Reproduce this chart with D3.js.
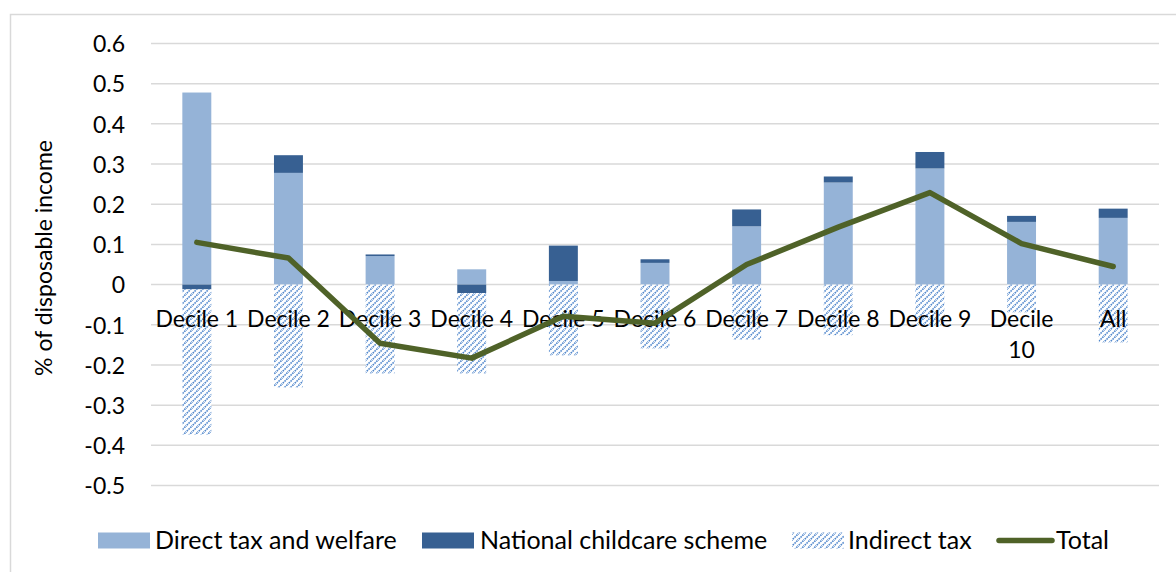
<!DOCTYPE html>
<html>
<head>
<meta charset="utf-8">
<script src="https://cdn.jsdelivr.net/npm/d3@7"></script>
<style>
  html, body { margin: 0; padding: 0; background: #fff; }
  svg { display: block; font-family: Lato, "Open Sans", sans-serif; }
</style>
</head>
<body>
<svg id="chart" width="1176" height="572"></svg>
<script>
// Distributional impact by income decile, % of disposable income
const categories = ["Decile 1", "Decile 2", "Decile 3", "Decile 4", "Decile 5",
                    "Decile 6", "Decile 7", "Decile 8", "Decile 9", "Decile 10", "All"];
const directTaxWelfare = [0.478, 0.278, 0.071, 0.038, 0.009, 0.054, 0.145, 0.254, 0.289, 0.156, 0.166];
const childcareScheme  = [-0.012, 0.044, 0.004, -0.021, 0.088, 0.009, 0.042, 0.015, 0.041, 0.015, 0.023];
const indirectTax      = [-0.361, -0.256, -0.221, -0.200, -0.176, -0.159, -0.137, -0.126, -0.101, -0.069, -0.144];
const totalImpact      = [0.105, 0.066, -0.146, -0.183, -0.079, -0.096, 0.050, 0.143, 0.229, 0.102, 0.045];
const yTicks = [0.6, 0.5, 0.4, 0.3, 0.2, 0.1, 0, -0.1, -0.2, -0.3, -0.4, -0.5];
const seriesNames = ["Direct tax and welfare", "National childcare scheme", "Indirect tax", "Total"];

const svg = d3.select("#chart");
const W = 1176, H = 572;
const plot = { left: 151, right: 1159, top: 43.5, bottom: 485.5 };
const FONT = 23;

// Chart-area border
svg.append("rect")
  .attr("x", 10.5).attr("y", 14.5)
  .attr("width", W).attr("height", H)
  .attr("fill", "none").attr("stroke", "#d9d9d9").attr("stroke-width", 1.5);

// Hatch pattern for indirect tax
const defs = svg.append("defs");
const pat = defs.append("pattern")
  .attr("id", "hatch").attr("patternUnits", "userSpaceOnUse")
  .attr("width", 6).attr("height", 6);
pat.append("rect").attr("width", 6).attr("height", 6).attr("fill", "#ffffff");
pat.append("path")
  .attr("d", "M-1,7 L7,-1 M-4,4 L4,-4 M2,10 L10,2")
  .attr("stroke", "#4f86cc").attr("stroke-width", 1.6)
  .attr("stroke-dasharray", "1.6,0.9");

const x = d3.scaleBand().domain(categories).range([plot.left, plot.right]).paddingInner(0.684).paddingOuter(0.342);
const y = d3.scaleLinear().domain([-0.5, 0.6]).range([plot.bottom, plot.top]);

// Gridlines
svg.append("g").selectAll("line").data(yTicks).join("line")
  .attr("x1", plot.left).attr("x2", plot.right)
  .attr("y1", d => y(d)).attr("y2", d => y(d))
  .attr("stroke", "#d9d9d9").attr("stroke-width", 1.5);

// Y axis tick labels (plain hyphen for negatives)
const fmt = d3.format(".1f");
const yAxis = d3.axisLeft(y).tickValues(yTicks).tickSize(0).tickPadding(0)
  .tickFormat(d => d === 0 ? "0" : fmt(d).replace("\u2212", "-"));
svg.append("g").attr("transform", `translate(${plot.left - 26},0)`)
  .call(yAxis)
  .call(g => g.select(".domain").remove())
  .call(g => g.selectAll("text")
      .attr("font-family", "Lato, sans-serif").attr("font-size", FONT)
      .attr("fill", "#000").attr("dy", "0.36em"));

// Y axis title
svg.append("text")
  .attr("transform", "translate(52,258) rotate(-90)")
  .attr("text-anchor", "middle")
  .attr("font-size", FONT).attr("fill", "#000")
  .text("% of disposable income");

// Stacked bars (positives and negatives stacked separately)
const rows = categories.map((c, i) => ({
  cat: c, direct: directTaxWelfare[i], childcare: childcareScheme[i], indirect: indirectTax[i]
}));
const stack = d3.stack().keys(["direct", "childcare", "indirect"]).offset(d3.stackOffsetDiverging);
const layers = stack(rows);
const fills = { direct: "#95b3d7", childcare: "#376092", indirect: "url(#hatch)" };

svg.append("g").selectAll("g").data(layers).join("g")
  .attr("fill", d => fills[d.key])
  .selectAll("rect").data(d => d).join("rect")
  .attr("x", d => x(d.data.cat))
  .attr("width", x.bandwidth())
  .attr("y", d => y(Math.max(d[0], d[1])))
  .attr("height", d => Math.abs(y(d[0]) - y(d[1])));

// Category labels next to the zero axis, wrapped when wider than the band
const catG = svg.append("g");
categories.forEach(c => {
  const t = catG.append("text")
    .attr("x", x(c) + x.bandwidth() / 2).attr("y", y(0) + 42)
    .attr("text-anchor", "middle").attr("font-size", FONT).attr("fill", "#000")
    .text(c);
  if (t.node().getComputedTextLength() > x.step() + 2) {
    const words = c.split(" ");
    t.text(null);
    words.forEach((w, k) => t.append("tspan")
      .attr("x", x(c) + x.bandwidth() / 2).attr("dy", k === 0 ? 0 : 31.5).text(w));
  }
});

// Total line
const line = d3.line()
  .x((d, i) => x(categories[i]) + x.bandwidth() / 2)
  .y(d => y(d));
svg.append("path").datum(totalImpact)
  .attr("d", line).attr("fill", "none")
  .attr("stroke", "#4f6228").attr("stroke-width", 5.5)
  .attr("stroke-linejoin", "round").attr("stroke-linecap", "round");

// Legend
const legendY = 540.5;
const LFONT = 25;
const legend = svg.append("g");
const items = [
  { name: seriesNames[0], x: 98, tx: 155, type: "rect", fill: fills.direct },
  { name: seriesNames[1], x: 422, tx: 480, type: "rect", fill: fills.childcare },
  { name: seriesNames[2], x: 792, tx: 848, type: "rect", fill: fills.indirect },
  { name: seriesNames[3], x: 999, tx: 1056, type: "line" }
];
items.forEach(it => {
  if (it.type === "rect") {
    legend.append("rect").attr("x", it.x).attr("y", legendY - 8)
      .attr("width", 52).attr("height", 16).attr("fill", it.fill);
  } else {
    legend.append("line").attr("x1", it.x).attr("x2", it.x + 53)
      .attr("y1", legendY).attr("y2", legendY)
      .attr("stroke", "#4f6228").attr("stroke-width", 5.5).attr("stroke-linecap", "round");
  }
  legend.append("text")
    .attr("x", it.tx).attr("y", legendY + 8.5)
    .attr("font-size", LFONT).attr("fill", "#000").text(it.name);
});
</script>
</body>
</html>
